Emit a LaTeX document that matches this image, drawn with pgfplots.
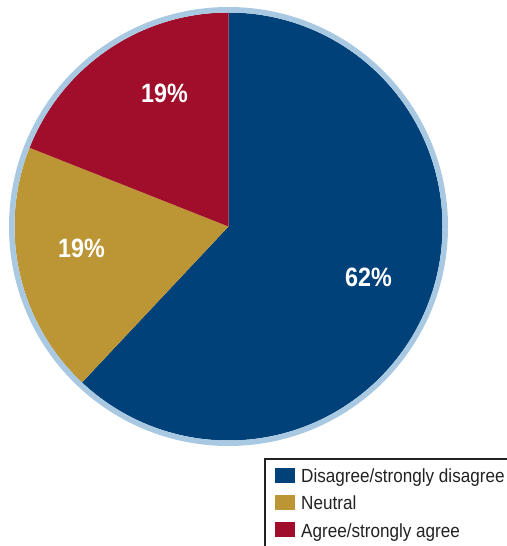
\documentclass[border=0pt]{standalone}
\usepackage{pgfplots}
\usepackage{pgfplotstable}
\pgfplotsset{compat=1.18}
\usepackage{fontspec}
\setmainfont{Liberation Sans}
\newfontfamily\legfont{Liberation Sans}[FakeStretch=0.9]
\newfontfamily\labfont{Liberation Sans}[FakeStretch=0.88]

\definecolor{cDis}{HTML}{00417A}
\definecolor{cNeu}{HTML}{BC9535}
\definecolor{cAgr}{HTML}{A10E2B}
\definecolor{cRing}{HTML}{A9C9E3}
\definecolor{cBox}{HTML}{222222}

\pgfplotstableread[col sep=comma]{
label,value
Disagree/strongly disagree,62
Neutral,19
Agree/strongly agree,19
}\piedata

\begin{document}
\begin{tikzpicture}
\useasboundingbox (0pt,0pt) rectangle (506pt,546pt);
% slice values and names from the table
\pgfplotstablegetelem{0}{value}\of\piedata \let\vA\pgfplotsretval
\pgfplotstablegetelem{1}{value}\of\piedata \let\vB\pgfplotsretval
\pgfplotstablegetelem{2}{value}\of\piedata \let\vC\pgfplotsretval
\pgfplotstablegetelem{0}{label}\of\piedata \let\lA\pgfplotsretval
\pgfplotstablegetelem{1}{label}\of\piedata \let\lB\pgfplotsretval
\pgfplotstablegetelem{2}{label}\of\piedata \let\lC\pgfplotsretval
% angles, clockwise from the top
\pgfmathsetmacro\aO{90}
\pgfmathsetmacro\aA{90-3.6*\vA}
\pgfmathsetmacro\aB{\aA-3.6*\vB}
\pgfmathsetmacro\aC{\aB-3.6*\vC}
\begin{axis}[
  at={(0pt,0pt)}, anchor=south west,
  scale only axis, width=506pt, height=546pt,
  xmin=0, xmax=506, ymin=0, ymax=546,
  hide axis, clip=false,
]
\fill[cDis] (axis cs:228.5,319.5) -- ++(\aO:214pt) arc[start angle=\aO, end angle=\aA, radius=214pt] -- cycle;
\fill[cNeu] (axis cs:228.5,319.5) -- ++(\aA:214pt) arc[start angle=\aA, end angle=\aB, radius=214pt] -- cycle;
\fill[cAgr] (axis cs:228.5,319.5) -- ++(\aB:214pt) arc[start angle=\aB, end angle=\aC, radius=214pt] -- cycle;
\draw[cRing, line width=5.5pt] (axis cs:228.5,319.5) circle[radius=216.75pt];

\node[white, anchor=base, inner sep=0pt, font=\labfont\bfseries\fontsize{26.5}{26.5}\selectfont] at (axis cs:368.5,259) {\vA\%};
\node[white, anchor=base, inner sep=0pt, font=\labfont\bfseries\fontsize{26.5}{26.5}\selectfont] at (axis cs:81.5,288) {\vB\%};
\node[white, anchor=base, inner sep=0pt, font=\labfont\bfseries\fontsize{26.5}{26.5}\selectfont] at (axis cs:164.5,443) {\vC\%};

% legend
\draw[cBox, fill=white, line width=1.3pt] (axis cs:265,87) rectangle (axis cs:530,-20);
\fill[cDis] (axis cs:275,63) rectangle (axis cs:295,78);
\fill[cNeu] (axis cs:275,36) rectangle (axis cs:295,51);
\fill[cAgr] (axis cs:275,9) rectangle (axis cs:295,24);
\node[anchor=base west, inner sep=0pt, text=cBox, font=\legfont\fontsize{19}{19}\selectfont] at (axis cs:301,63) {\lA};
\node[anchor=base west, inner sep=0pt, text=cBox, font=\legfont\fontsize{19}{19}\selectfont] at (axis cs:301,36) {\lB};
\node[anchor=base west, inner sep=0pt, text=cBox, font=\legfont\fontsize{19}{19}\selectfont] at (axis cs:301,9) {\lC};
\end{axis}
\end{tikzpicture}
\end{document}
